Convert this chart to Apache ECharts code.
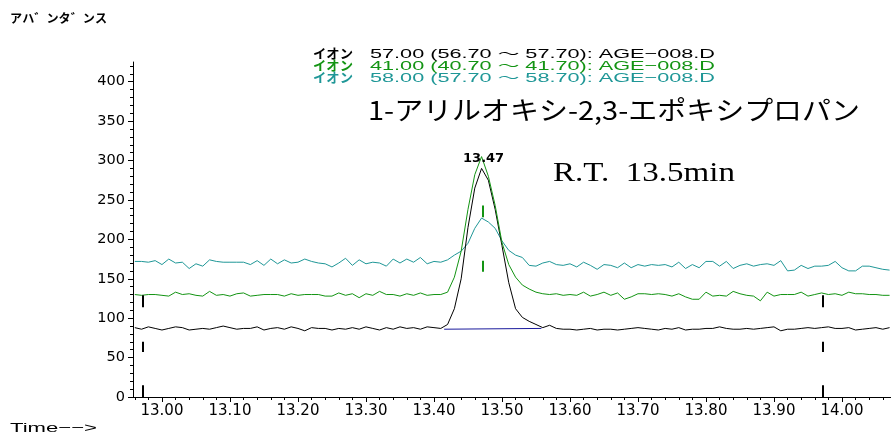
<!DOCTYPE html>
<html>
<head>
<meta charset="utf-8">
<script src="https://cdn.jsdelivr.net/npm/echarts@6/dist/echarts.min.js"></script>
<style>html,body{margin:0;padding:0;background:#fff}#c{width:891px;height:432px}</style>
</head>
<body>
<div id="c"></div>
<script>
// ---- data ----
const timeStart = 12.96, timeStep = 0.01;
const blackVals = [
88,86,89,87,85,87,89,88,85,86,
87,86,88,90,88,86,87,87,89,85,
87,88,86,89,87,84,88,87,87,85,
87,86,88,86,89,87,85,88,86,89,
87,88,86,89,88,87,
92,112,150,215,265,290,275,238,192,145,112,101,96,92,88,
91,87,86,86,85,86,87,85,86,86,
85,86,87,88,87,86,85,87,86,88,
85,86,86,87,87,89,87,86,86,87,
86,87,88,89,84,86,86,87,88,87,
88,89,87,87,88,85,86,87,88,86,
88];
const greenVals = [
130,129,130,130,129,128,133,130,131,129,
128,134,129,130,128,131,132,128,129,130,
130,130,128,131,129,130,130,130,128,128,
132,129,131,126,131,129,134,130,130,128,
131,129,132,129,130,130,
133,152,185,238,282,305,280,243,196,168,152,
142,137,133,131,130,131,129,130,129,133,
128,130,133,129,132,124,127,131,131,130,
131,130,128,131,127,124,
124,133,128,129,128,134,131,129,128,122,
133,128,130,130,130,133,128,130,132,130,
131,129,133,131,131,130,130,129,129];
const tealVals = [
172,172,171,173,168,175,170,171,163,169,166,174,172,171,171,171,171,168,173,167,175,169,174,170,171,175,172,170,169,
165,170,176,167,174,169,171,170,166,175,170,175,171,177,169,172,171,174,
180,185,195,214,227,222,214,198,186,180,177,
167,166,170,172,168,167,169,165,171,167,
162,168,167,164,170,164,168,166,168,167,
168,165,171,163,168,164,172,172,166,172,
163,167,169,166,168,169,167,173,160,161,
167,163,166,166,167,172,164,160,160,166,
166,164,162,161];
const baselinePts = [[13.415, 86], [13.558, 87]];
const peakTime = 13.473, peakLabel = '13.47', peakValue = 290;
const markerTimes = [12.972, 13.972];
const markerSpans = [[114,129],[57,70],[0,15]];
const peakMarkTime = 13.472;
const peakMarkSpans = [[228,243],[159,173]];
const xTickLabels = [13.00,13.10,13.20,13.30,13.40,13.50,13.60,13.70,13.80,13.90,14.00];
const yTickLabels = [0,50,100,150,200,250,300,350,400];
const xMin = 12.9574, xMax = 14.0721, yMin = 0, yMax = 425;
const legendTexts = ['57.00 (56.70 〜 57.70): AGE−008.D','41.00 (40.70 〜 41.70): AGE−008.D','58.00 (57.70 〜 58.70): AGE−008.D'];
const ionText = 'イオン';
const yName = 'アハ゛ンタ゛ンス';
const xName = 'Time−−>';
const titleText = '1-アリルオキシ-2,3-エポキシプロパン';
const rtText = 'R.T.  13.5min';

const colBlack = '#000000', colGreen = '#139413', colTeal = '#1f9797', colBlue = '#1a1a9c';

// ---- build ----
const times = blackVals.map((_, i) => +(timeStart + i * timeStep).toFixed(2));
const pts = vals => vals.map((v, i) => [times[i], v]);
const xMinor = [];
for (let k = 0; k <= 56; k++) { const t = +(12.96 + k * 0.02).toFixed(2); if (t <= xMax && Math.abs(t * 10 - Math.round(t * 10)) > 1e-6) xMinor.push(t); }
const yMinor = [];
for (let v = 10; v <= 420; v += 10) if (v % 50 !== 0) yMinor.push(v);

const mctx = document.createElement('canvas').getContext('2d');
function fitScale(text, font, width) { mctx.font = font; return width / mctx.measureText(text).width; }
function txt(text, font, x, y, width, fill) {
  return { type: 'text', x: x, y: y, scaleX: fitScale(text, font, width), silent: true,
    style: { text: text, font: font, fill: fill, textAlign: 'left', textVerticalAlign: 'middle' } };
}
const legFont = '13px "Liberation Sans", "Noto Sans CJK JP", sans-serif';
const legCols = [colBlack, colGreen, colTeal];
const graphics = [
  txt(yName, 'bold 12px "Noto Sans CJK JP"', 10, 18, 97, '#000'),
  txt(xName, '13px "Liberation Sans"', 10, 428, 87, '#000'),
  txt(titleText, '26px "Noto Sans CJK JP"', 368, 110, 492, '#000'),
  txt(rtText, '27px "Liberation Serif", "Noto Sans CJK JP"', 553, 174, 182, '#000')
];
legendTexts.forEach((t, i) => {
  graphics.push(txt(ionText, 'bold ' + legFont, 313, 54 + 12 * i, 40, legCols[i]));
  graphics.push(txt(t, legFont, 370, 54 + 12 * i, 345, legCols[i]));
});

const markLines = [];
markerTimes.forEach(t => markerSpans.forEach(s => markLines.push([{ coord: [t, s[0]] }, { coord: [t, s[1]] }])));
const peakLines = peakMarkSpans.map(s => [{ coord: [peakMarkTime, s[0]] }, { coord: [peakMarkTime, s[1]] }]);

const chart = echarts.init(document.getElementById('c'), null, { renderer: 'canvas' });
chart.setOption({
  animation: false,
  backgroundColor: '#fff',
  grid: { left: 133, right: 0, top: 62, bottom: 35, containLabel: false },
  xAxis: [
    { type: 'value', min: xMin, max: xMax, position: 'bottom',
      axisLine: { show: true, lineStyle: { color: '#000', width: 1 } },
      axisTick: { show: true, length: 5, customValues: xTickLabels, lineStyle: { color: '#000' } },
      axisLabel: { show: true, margin: 7, customValues: xTickLabels, formatter: v => v.toFixed(2), fontFamily: 'DejaVu Sans', fontSize: 15, color: '#000' },
      splitLine: { show: false } },
    { type: 'value', min: xMin, max: xMax, position: 'bottom',
      axisLine: { show: false },
      axisTick: { show: true, length: 3, customValues: xMinor, lineStyle: { color: '#000' } },
      axisLabel: { show: false }, splitLine: { show: false } }
  ],
  yAxis: [
    { type: 'value', min: yMin, max: yMax, position: 'left',
      axisLine: { show: true, lineStyle: { color: '#000', width: 1 } },
      axisTick: { show: true, length: 5, customValues: yTickLabels, lineStyle: { color: '#000' } },
      axisLabel: { show: true, margin: 8, customValues: yTickLabels, fontFamily: 'DejaVu Sans', fontSize: 14.5, color: '#000' },
      splitLine: { show: false } },
    { type: 'value', min: yMin, max: yMax, position: 'left',
      axisLine: { show: false },
      axisTick: { show: true, length: 3, customValues: yMinor, lineStyle: { color: '#000' } },
      axisLabel: { show: false }, splitLine: { show: false } }
  ],
  graphic: graphics,
  series: [
    { type: 'line', data: pts(tealVals), showSymbol: false, lineStyle: { color: colTeal, width: 1 }, itemStyle: { color: colTeal }, silent: true },
    { type: 'line', data: pts(blackVals), showSymbol: false, lineStyle: { color: colBlack, width: 1 }, itemStyle: { color: colBlack }, silent: true,
      markLine: { silent: true, symbol: ['none', 'none'], label: { show: false }, lineStyle: { color: '#000', width: 2, type: 'solid' }, data: markLines },
      markPoint: { silent: true, symbol: 'circle', symbolSize: 0,
        label: { show: true, position: 'top', distance: 3, formatter: peakLabel, color: '#000', fontFamily: 'DejaVu Sans', fontWeight: 'bold', fontSize: 13 },
        data: [{ coord: [peakTime, peakValue] }] } },
    { type: 'line', data: pts(greenVals), showSymbol: false, lineStyle: { color: colGreen, width: 1 }, itemStyle: { color: colGreen }, silent: true,
      markLine: { silent: true, symbol: ['none', 'none'], label: { show: false }, lineStyle: { color: colGreen, width: 2, type: 'solid' }, data: peakLines } },
    { type: 'line', data: baselinePts, showSymbol: false, lineStyle: { color: colBlue, width: 1 }, itemStyle: { color: colBlue }, silent: true }
  ]
});
</script>
</body>
</html>
